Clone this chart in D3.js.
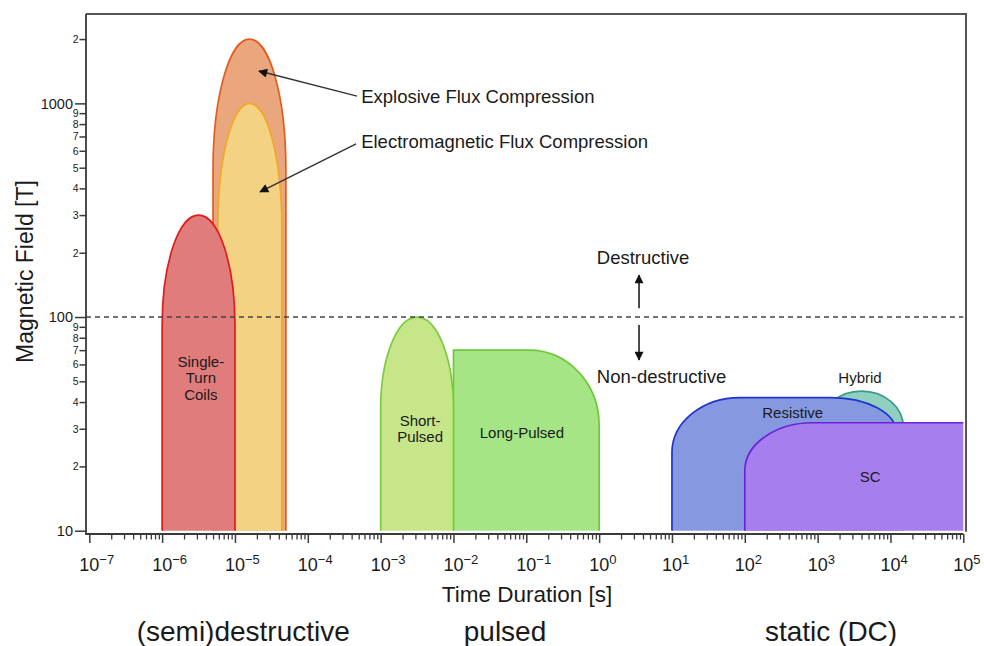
<!DOCTYPE html>
<html><head><meta charset="utf-8">
<script src="https://cdn.jsdelivr.net/npm/d3@7"></script>
<style>
body{margin:0;background:#fff}
svg{display:block}
text{font-family:"Liberation Sans",Arial,Helvetica,sans-serif;fill:#1a1a1a}
</style>
</head><body>
<svg id="chart" width="984" height="646"></svg>
<script>
// ---------------- DATA ----------------
const domeNames  = ["Explosive Flux Compression", "Electromagnetic Flux Compression", "Single-Turn Coils", "Short-Pulsed", "Hybrid"];
const domeStart  = [5e-6, 5.8e-6, 1e-6, 1e-3, 1.07e3];   // s
const domeEnd    = [5e-5, 4.4e-5, 1e-5, 1e-2, 1.5e4];    // s
const domePeak   = [2000, 1000, 300, 100, 45];           // T

const plateauNames = ["Long-Pulsed", "Resistive", "SC"];
const plateauStart = [1e-2, 10, 100];                     // s
const plateauEnd   = [1, 1.2e4, 1e5];                     // s
const plateauLevel = [70, 42, 32];                        // T

const fieldFloor = 10;          // T, bottom of the field axis
const destructiveLimit = 100;   // T

const xMajorTicks = [1e-7, 1e-6, 1e-5, 1e-4, 1e-3, 1e-2, 1e-1, 1e0, 1e1, 1e2, 1e3, 1e4, 1e5];
const xTickExponents = ["\u22127", "\u22126", "\u22125", "\u22124", "\u22123", "\u22122", "\u22121", "0", "1", "2", "3", "4", "5"];
const yMajorTicks = [10, 100, 1000];
const yMajorLabels = ["10", "100", "1000"];
const yMinorTicks = [20, 30, 40, 50, 60, 70, 80, 90, 200, 300, 400, 500, 600, 700, 800, 900, 2000];
const yMinorLabels = ["2", "3", "4", "5", "6", "7", "8", "9", "2", "3", "4", "5", "6", "7", "8", "9", "2"];

const shapeLabelNames = ["Single-Turn Coils", "Short-Pulsed", "Long-Pulsed", "Resistive", "Hybrid", "SC"];
const shapeLabelLines = [["Single-", "Turn", "Coils"], ["Short-", "Pulsed"], ["Long-Pulsed"], ["Resistive"], ["Hybrid"], ["SC"]];
const shapeLabelTime  = [3.4e-6, 3.48e-3, 0.087, 455, 3820, 5250];
const shapeLabelField = [52.4, 30.2, 29.1, 36.1, 52.2, 18.1];

const annotTexts = ["Explosive Flux Compression", "Electromagnetic Flux Compression"];
const annotTime  = [5.4e-4, 5.4e-4];
const annotField = [1000, 620];
const arrowFromTime  = [4.74e-4, 4.6e-4];
const arrowFromField = [1081, 646];
const arrowToTime    = [2.14e-5, 2.21e-5];
const arrowToField   = [1416, 385];

const regimeTexts = ["Destructive", "Non-destructive"];
const regimeTime  = [0.93, 0.93];
const regimeField = [177, 49.1];
const regimeArrowTime = 3.53;
const regimeArrowFrom = [110, 91.8];
const regimeArrowTo   = [157, 63];

const categoryTexts = ["(semi)destructive", "pulsed", "static (DC)"];
const categoryTime  = [1.3e-5, 0.051, 1528];

const xTitle = "Time Duration [s]";
const yTitle = "Magnetic Field [T]";

// ---------------- STYLE ----------------
const style = {
  "Explosive Flux Compression":       {fill: "#eaa77e", stroke: "#e65a1a", ry: 130},
  "Electromagnetic Flux Compression": {fill: "#f3d283", stroke: "#f0a828", ry: 124},
  "Single-Turn Coils":                {fill: "#e07c7c", stroke: "#e01c1c", ry: 110},
  "Short-Pulsed":                     {fill: "#c7e68a", stroke: "#7ccb3a", ry: 92},
  "Hybrid":                           {fill: "#8fd0c1", stroke: "#3a9a88", ry: 36},
  "Long-Pulsed": {fill: "#a6e586", stroke: "#6ec83a", left: null, right: [70, 75]},
  "Resistive":   {fill: "#8598e0", stroke: "#1e34cc", left: [68, 55], right: [65, 35]},
  "SC":          {fill: "#a77eee", stroke: "#6a22d8", left: [68, 48], right: null, openRight: true}
};
const drawOrder = ["Explosive Flux Compression", "Electromagnetic Flux Compression", "Single-Turn Coils",
                   "Long-Pulsed", "Short-Pulsed", "Hybrid", "Resistive", "SC"];
const axisColor = "#3a3a3a";

// ---------------- SCALES ----------------
const plotLeft = 86, plotTop = 14, plotRight = 966, axisY = 534;
const x = d3.scaleLog().domain([1e-7, 1e5]).range([89.3, 963.3]);
const y = d3.scaleLog().domain([fieldFloor, 2620]).range([530.7, plotTop]);

const svg = d3.select("#chart");

// ---------------- SHAPES ----------------
function domeOutline(i) {
  const xl = x(domeStart[i]), xr = x(domeEnd[i]);
  const xc = (xl + xr) / 2, rx = (xr - xl) / 2;
  const yp = y(domePeak[i]), yb = y(fieldFloor);
  const ry = Math.min(style[domeNames[i]].ry, yb - yp);
  const ys = yp + ry;
  return `M${xl},${yb}L${xl},${ys}A${rx},${ry} 0 0 1 ${xc},${yp}A${rx},${ry} 0 0 1 ${xr},${ys}L${xr},${yb}`;
}
function plateauOutline(i) {
  const s = style[plateauNames[i]];
  const xl = x(plateauStart[i]), xr = x(plateauEnd[i]);
  const yt = y(plateauLevel[i]), yb = y(fieldFloor);
  let d = `M${xl},${yb}`;
  if (s.left) {
    const [rx, ry] = s.left;
    d += `L${xl},${yt + ry}A${rx},${ry} 0 0 1 ${xl + rx},${yt}`;
  } else {
    d += `L${xl},${yt}`;
  }
  if (s.right) {
    const [rx, ry] = s.right;
    d += `L${xr - rx},${yt}A${rx},${ry} 0 0 1 ${xr},${yt + ry}L${xr},${yb}`;
  } else {
    d += `L${xr},${yt}`;
    if (!s.openRight) d += `L${xr},${yb}`;
  }
  return d;
}

const shapesG = svg.append("g");
drawOrder.forEach(name => {
  let outline, fillPath;
  const di = domeNames.indexOf(name);
  if (di >= 0) {
    outline = domeOutline(di);
    fillPath = outline + "Z";
  } else {
    const pi = plateauNames.indexOf(name);
    outline = plateauOutline(pi);
    fillPath = style[name].openRight
      ? outline + `L${x(plateauEnd[pi])},${y(fieldFloor)}L${x(plateauStart[pi])},${y(fieldFloor)}Z`
      : outline + "Z";
  }
  const s = style[name];
  shapesG.append("path").attr("d", fillPath).attr("fill", s.fill).attr("stroke", "none");
  shapesG.append("path").attr("d", outline).attr("fill", "none")
    .attr("stroke", s.stroke).attr("stroke-width", 1.7).attr("stroke-linejoin", "round");
});

// ---------------- SHAPE LABELS ----------------
shapeLabelNames.forEach((n, i) => {
  const lines = shapeLabelLines[i];
  const lh = 16.5;
  const cx = x(shapeLabelTime[i]), cy = y(shapeLabelField[i]);
  const t = svg.append("text").attr("text-anchor", "middle").attr("font-size", 15)
    .attr("dominant-baseline", "central");
  lines.forEach((ln, k) => {
    t.append("tspan").attr("x", cx).attr("y", cy + (k - (lines.length - 1) / 2) * lh).text(ln);
  });
});

// ---------------- DESTRUCTIVE LIMIT ----------------
svg.append("line")
  .attr("x1", plotLeft).attr("x2", x(1e5))
  .attr("y1", y(destructiveLimit)).attr("y2", y(destructiveLimit))
  .attr("stroke", "#444").attr("stroke-width", 1.5).attr("stroke-dasharray", "5,4");

// ---------------- ARROWS ----------------
const defs = svg.append("defs");
defs.append("marker").attr("id", "ah").attr("viewBox", "0 0 10 10")
  .attr("refX", 9).attr("refY", 5).attr("markerWidth", 11).attr("markerHeight", 9)
  .attr("markerUnits", "userSpaceOnUse").attr("orient", "auto")
  .append("path").attr("d", "M0,0L10,5L0,10Z").attr("fill", "#111");

annotTexts.forEach((t, i) => {
  svg.append("line")
    .attr("x1", x(arrowFromTime[i])).attr("y1", y(arrowFromField[i]))
    .attr("x2", x(arrowToTime[i])).attr("y2", y(arrowToField[i]))
    .attr("stroke", "#333").attr("stroke-width", 1.5).attr("marker-end", "url(#ah)");
  svg.append("text").attr("x", x(annotTime[i])).attr("y", y(annotField[i]))
    .attr("font-size", 18.5).text(t);
});
regimeTexts.forEach((t, i) => {
  svg.append("line")
    .attr("x1", x(regimeArrowTime)).attr("x2", x(regimeArrowTime))
    .attr("y1", y(regimeArrowFrom[i])).attr("y2", y(regimeArrowTo[i]))
    .attr("stroke", "#111").attr("stroke-width", 1.5).attr("marker-end", "url(#ah)");
  svg.append("text").attr("x", x(regimeTime[i])).attr("y", y(regimeField[i]))
    .attr("font-size", 18.5).text(t);
});

// ---------------- AXES ----------------
svg.append("path")
  .attr("d", `M${plotLeft},${plotTop}L${plotRight},${plotTop}L${plotRight},${y(fieldFloor) + 1}`)
  .attr("fill", "none").attr("stroke", "#555").attr("stroke-width", 2);
svg.append("path")
  .attr("d", `M${plotLeft},${plotTop}L${plotLeft},${axisY}L${x(1e5)},${axisY}`)
  .attr("fill", "none").attr("stroke", axisColor).attr("stroke-width", 1.8);

const yMajor = svg.append("g").attr("transform", `translate(${plotLeft},0)`)
  .call(d3.axisLeft(y).tickValues(yMajorTicks).tickSize(11).tickPadding(2)
    .tickFormat((d, i) => yMajorLabels[i]));
yMajor.select(".domain").remove();
yMajor.selectAll("line").attr("stroke", axisColor).attr("stroke-width", 1.5);
yMajor.selectAll("text").attr("font-size", 14.5).attr("font-family", null).attr("fill", "#1a1a1a");

const yMinor = svg.append("g").attr("transform", `translate(${plotLeft},0)`)
  .call(d3.axisLeft(y).tickValues(yMinorTicks).tickSize(6.5).tickPadding(1)
    .tickFormat((d, i) => yMinorLabels[i]));
yMinor.select(".domain").remove();
yMinor.selectAll("line").attr("stroke", axisColor).attr("stroke-width", 1.5);
yMinor.selectAll("text").attr("font-size", 10.5).attr("font-family", null).attr("fill", "#1a1a1a");

const xMinorTicks = [];
xMajorTicks.slice(0, -1).forEach(m => { for (let k = 2; k <= 9; k++) xMinorTicks.push(m * k); });
const xMaj = svg.append("g").attr("transform", `translate(0,${axisY})`)
  .call(d3.axisBottom(x).tickValues(xMajorTicks).tickSize(9).tickFormat(""));
xMaj.select(".domain").remove();
xMaj.selectAll("line").attr("stroke", axisColor).attr("stroke-width", 1.5);
const xMin = svg.append("g").attr("transform", `translate(0,${axisY})`)
  .call(d3.axisBottom(x).tickValues(xMinorTicks).tickSize(5.5).tickFormat(""));
xMin.select(".domain").remove();
xMin.selectAll("line").attr("stroke", axisColor).attr("stroke-width", 1.3);

const baseFont = 18;
xMajorTicks.forEach((v, i) => {
  const t = svg.append("text").attr("x", x(v) - baseFont * 0.556).attr("y", 571)
    .attr("font-size", baseFont);
  t.append("tspan").text("10");
  t.append("tspan").attr("font-size", 13).attr("dy", -7.5).text(xTickExponents[i]);
});

svg.append("text").attr("x", 527).attr("y", 602).attr("text-anchor", "middle")
  .attr("font-size", 22.5).text(xTitle);
svg.append("text").attr("transform", "translate(33.3,271.5) rotate(-90)")
  .attr("text-anchor", "middle").attr("font-size", 23).text(yTitle);

categoryTexts.forEach((t, i) => {
  svg.append("text").attr("x", x(categoryTime[i])).attr("y", 641)
    .attr("text-anchor", "middle").attr("font-size", 28).text(t);
});
</script>
</body></html>
